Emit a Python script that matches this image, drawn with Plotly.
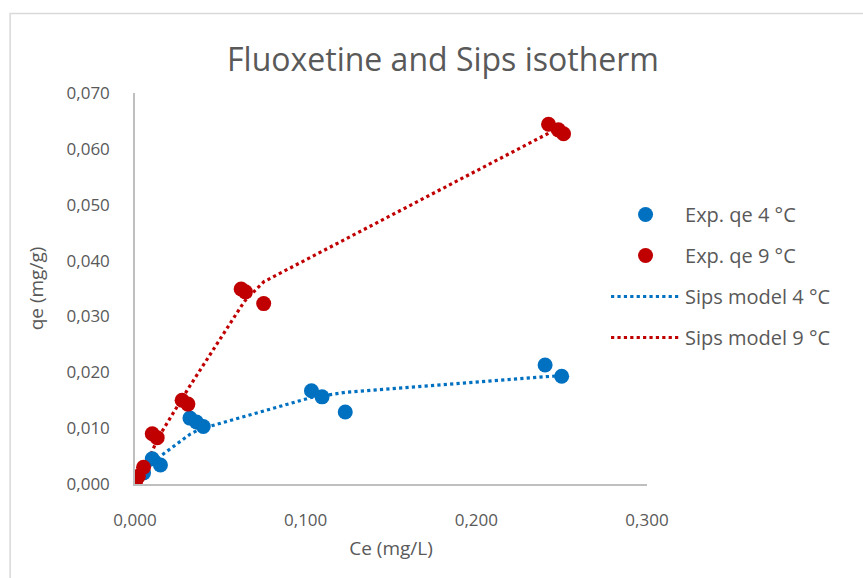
import plotly.graph_objects as go

# Experimental data, 4 °C
exp4_ce = [0.0005, 0.0050, 0.0101, 0.0149, 0.0322, 0.0360, 0.0400, 0.1034, 0.1096, 0.1232, 0.2403, 0.2500]
exp4_qe = [0.0009, 0.0020, 0.0045, 0.0034, 0.0118, 0.0111, 0.0103, 0.0167, 0.0156, 0.0129, 0.0213, 0.0193]
# Experimental data, 9 °C
exp9_ce = [0.0003, 0.0020, 0.0050, 0.0101, 0.0130, 0.0276, 0.0310, 0.0622, 0.0647, 0.0754, 0.2423, 0.2481, 0.2511]
exp9_qe = [0.0004, 0.0014, 0.0030, 0.0090, 0.0083, 0.0150, 0.0143, 0.0349, 0.0344, 0.0323, 0.0644, 0.0634, 0.0627]
# Sips model, 4 °C
sips4_ce = [0.0005, 0.0050, 0.0101, 0.0149, 0.0322, 0.0360, 0.0400, 0.1034, 0.1096, 0.1232, 0.2403, 0.2500]
sips4_qe = [0.0003, 0.0018, 0.0037, 0.0050, 0.0089, 0.0095, 0.0100, 0.0155, 0.0158, 0.0164, 0.0192, 0.0194]
# Sips model, 9 °C
sips9_ce = [0.0003, 0.0020, 0.0050, 0.0101, 0.0130, 0.0276, 0.0310, 0.0622, 0.0647, 0.0754, 0.2423, 0.2481, 0.2511]
sips9_qe = [0.0003, 0.0013, 0.0030, 0.0058, 0.0080, 0.0155, 0.0170, 0.0318, 0.0329, 0.0362, 0.0627, 0.0637, 0.0642]

x_ticks = [0.0, 0.1, 0.2, 0.3]
y_ticks = [0.0, 0.01, 0.02, 0.03, 0.04, 0.05, 0.06, 0.07]

BLUE = "#0070C0"
RED = "#C00000"
GRAY = "#595959"
FONT = "Open Sans"

fig = go.Figure()
fig.add_trace(go.Scatter(x=sips4_ce, y=sips4_qe, mode="lines", name="Sips model 4 °C",
                         line=dict(color=BLUE, width=3.2, dash="dot"), legendrank=3, legendgroup="c"))
fig.add_trace(go.Scatter(x=sips9_ce, y=sips9_qe, mode="lines", name="Sips model 9 °C",
                         line=dict(color=RED, width=3.2, dash="dot"), legendrank=4, legendgroup="d"))
fig.add_trace(go.Scatter(x=exp4_ce, y=exp4_qe, mode="markers", name="Exp. qe 4 °C",
                         marker=dict(color=BLUE, size=15), legendrank=1, legendgroup="a"))
fig.add_trace(go.Scatter(x=exp9_ce, y=exp9_qe, mode="markers", name="Exp. qe 9 °C",
                         marker=dict(color=RED, size=15), legendrank=2, legendgroup="b"))

L, R, T, B = 134.5, 216, 93, 94
pw, ph = 863 - L - R, 578 - T - B

def px(xp):
    return (xp - L) / pw

def py(yp):
    return (578 - B - yp) / ph

fig.update_layout(
    width=863, height=578,
    margin=dict(l=L, r=R, t=T, b=B),
    paper_bgcolor="white", plot_bgcolor="white",
    separators=", ",
    font=dict(family=FONT, color=GRAY, size=17),
    title=dict(text="Fluoxetine and Sips isotherm", x=(443) / 863, xanchor="center",
               y=1 - 60 / 578, yanchor="middle", font=dict(size=32, color=GRAY, family=FONT)),
    xaxis=dict(range=[0, 0.3], tickvals=x_ticks, tickformat=".3f", showgrid=False, zeroline=False,
               showline=True, linecolor="#BFBFBF", linewidth=1.5, ticks="",
               tickfont=dict(size=17, color=GRAY), ticklabelstandoff=20,
               title=dict(text="Ce (mg/L)", font=dict(size=19, color=GRAY), standoff=12)),
    yaxis=dict(range=[0, 0.07], tickvals=y_ticks, tickformat=".3f", showgrid=False, zeroline=False,
               showline=True, linecolor="#BFBFBF", linewidth=1.5, ticks="",
               tickfont=dict(size=17, color=GRAY), ticklabelstandoff=20,
               title=dict(text="qe (mg/g)", font=dict(size=19, color=GRAY), standoff=18)),
    legend=dict(x=px(606), y=py(195), xanchor="left", yanchor="top",
                font=dict(size=20, color=GRAY), tracegroupgap=12, itemwidth=69,
                bgcolor="rgba(0,0,0,0)"),
    shapes=[dict(type="rect", xref="paper", yref="paper",
                 x0=px(9.5), x1=px(900), y0=py(620), y1=py(13.5),
                 line=dict(color="#D9D9D9", width=1.5), fillcolor="rgba(0,0,0,0)", layer="below")],
)

fig.write_html("out.html")
